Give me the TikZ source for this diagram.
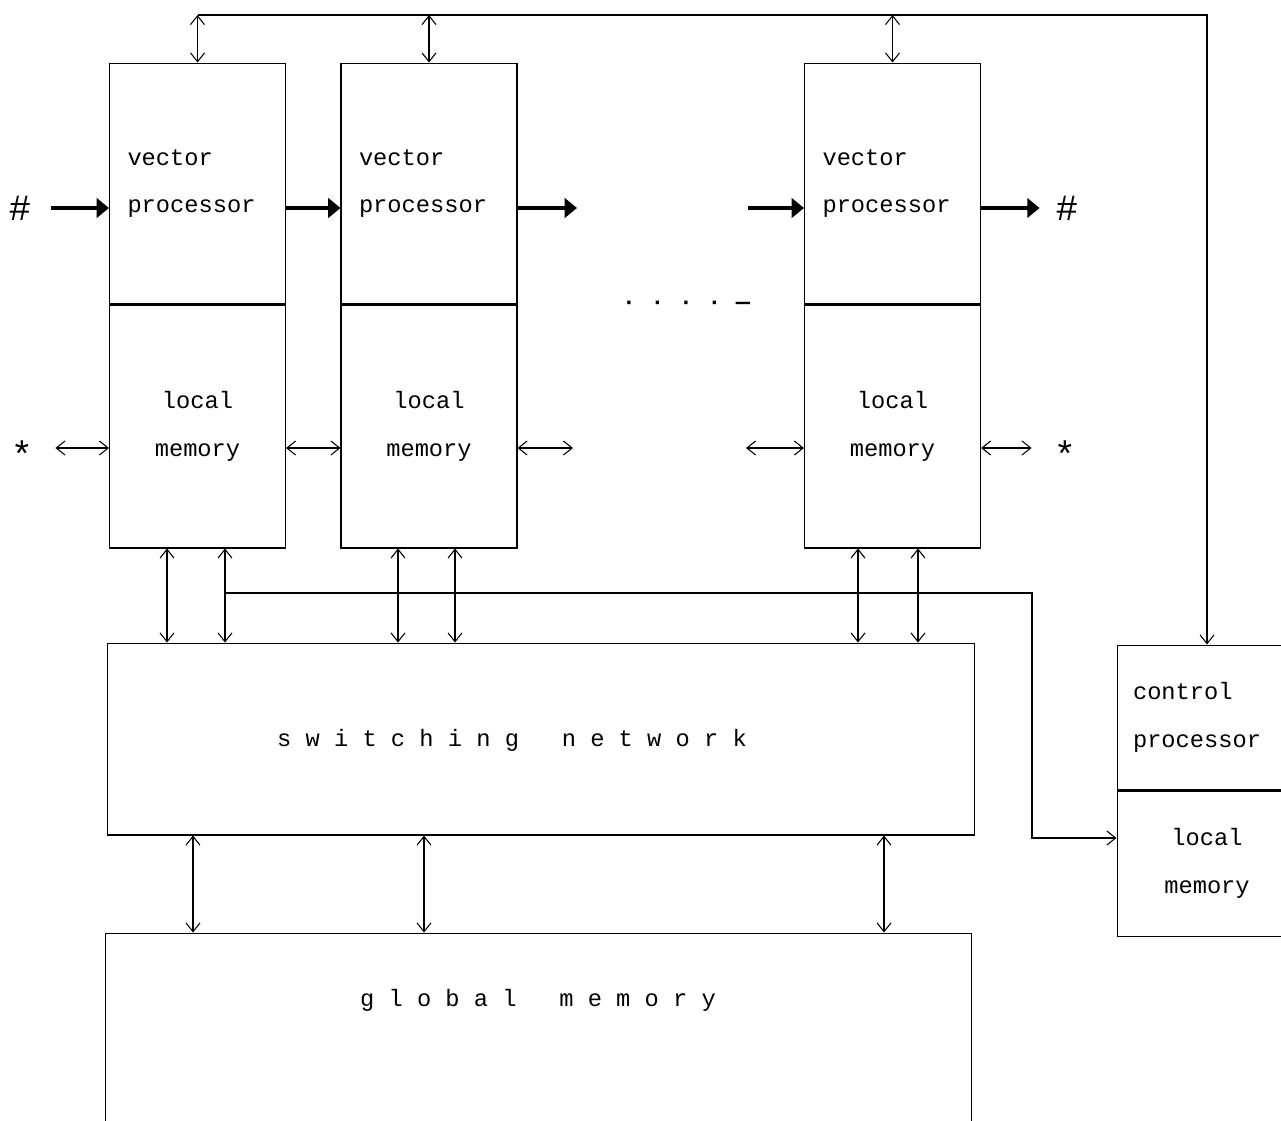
\documentclass[tikz,border=0pt]{standalone}
\usepackage{fontspec}
\setmainfont{Liberation Mono}
\usetikzlibrary{arrows.meta,calc}

\begin{document}
\begin{tikzpicture}[x=0.02cm,y=-0.02cm,
	font=\fontsize{13.5}{27}\selectfont,
	>={Straight Barb[length=5pt,width=8pt]},
	unitbox/.style={draw,line width=0.6pt,inner ysep=0pt},
	procbox/.style={unitbox,minimum height=4.82cm,inner xsep=0.36cm,text width=2.8cm,align=left},
	membox/.style={unitbox,minimum height=4.86cm,inner xsep=0.36cm,text width=2.8cm,align=center},
	ctrlbox/.style={unitbox,minimum height=2.9cm,inner xsep=0.32cm,text width=2.96cm},
	link/.style={line width=0.6pt,<->},
	feed/.style={line width=0.6pt,->},
	fat/.style={line width=2.8pt,-{Triangle[length=7pt,width=11pt]}},
	endsym/.style={inner sep=0pt,font=\fontsize{21}{21}\selectfont}]
	\useasboundingbox (0,0) rectangle (1281,1120);
	
	% vector processors with their local memories
	\foreach \i/\x in {1/197.5,2/429,3/892.5} {
		\node[procbox] (vp\i) at (\x,183.5) {vector\\processor};
		\node[membox,anchor=north] (lm\i) at (vp\i.south) {local\\memory};
	}
	\node[font=\fontsize{13.5}{27}\selectfont\bfseries] (gap) at (686,305) {· · · · —};
	
	% control processor
	\node[ctrlbox,align=left] (cp) at (1207,717.5) {control\\processor};
	\node[ctrlbox,align=center,anchor=north] (cpl) at (cp.south) {local\\memory};
	
	% switching network and global memory
	\node[unitbox,minimum width=17.36cm,minimum height=3.84cm] (sw) at (541,739) {};
	\node (swname) at (512,740) {s w i t c h i n g\ \ \ n e t w o r k};
	\node[unitbox,minimum width=17.34cm,minimum height=4.14cm] (gm) at (538.5,1036.5) {};
	\node (gmname) at (538,1000) {g l o b a l\ \ \ m e m o r y};
	
	% control bus
	\draw[feed] (vp1.north |- 0,15) -| (cp.north);
	\foreach \i in {1,2,3}
		\draw[link] (vp\i.north |- 0,15) -- (vp\i.north);
	
	% vector pipeline
	\node[endsym] (hashin) at (20,208) {\#};
	\node[endsym] (hashout) at (1067,208) {\#};
	\coordinate (out2) at (577,208);
	\coordinate (in3) at (748,208);
	\draw[fat,shorten <=0.4cm] (hashin) -- (vp1.west |- hashin);
	\draw[fat] (vp1.east |- hashin) -- (vp2.west |- hashin);
	\draw[fat] (vp2.east |- hashin) -- (out2);
	\draw[fat] (in3) -- (vp3.west |- hashin);
	\draw[fat,shorten >=0.32cm] (vp3.east |- hashout) -- (hashout);
	
	% neighbour links of local memories
	\node[endsym] (starin) at (22,454) {*};
	\node[endsym] (starout) at (1065,454) {*};
	\coordinate (mout2) at (573,448);
	\coordinate (min3) at (746,448);
	\draw[link,shorten <=0.44cm] (starin.east |- mout2) -- (lm1.west |- mout2);
	\draw[link] (lm1.east |- mout2) -- (lm2.west |- mout2);
	\draw[link] (lm2.east |- mout2) -- (mout2);
	\draw[link] (min3) -- (lm3.west |- min3);
	\draw[link,shorten >=0.44cm] (lm3.east |- min3) -- (starout.west |- min3);
	
	% memories to switching network
	\foreach \i/\xa/\xb in {1/167/225,2/398/455,3/858/918} {
		\draw[link] (lm\i.south -| \xa,0) -- (sw.north -| \xa,0);
		\draw[link] (lm\i.south -| \xb,0) -- (sw.north -| \xb,0);
	}
	\coordinate (tap) at (225,593);
	\draw[feed] (tap) -| (1032,838) -- (cpl.west |- 0,838);
	
	% switching network to global memory
	\foreach \xa in {193,424,884}
		\draw[link] (sw.south -| \xa,0) -- (gm.north -| \xa,0);
	
\end{tikzpicture}
\end{document}
